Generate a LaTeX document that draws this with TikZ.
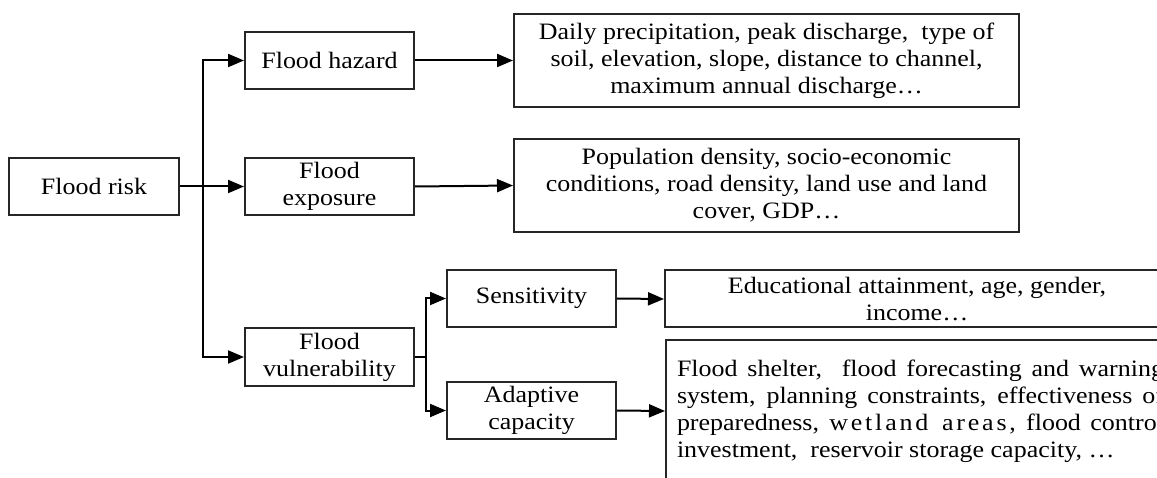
\documentclass[tikz,border=0pt]{standalone}
\usepackage{fontspec}
\setmainfont{Liberation Serif}[FakeStretch=1.105]
\usetikzlibrary{arrows.meta}
\tikzset{
  box/.style={draw=black!85, line width=2pt, inner sep=0pt, align=center,
    font=\fontsize{23.5}{27}\selectfont},
  arr/.style={draw=black, line width=2pt, -{Triangle[length=16pt,width=13pt]}},
  ln/.style={draw=black, line width=2pt}
}
\begin{document}
\begin{tikzpicture}[x=1pt,y=-1pt]
\path[use as bounding box, clip] (0,0) rectangle (1157,478);
\fill[white] (0,0) rectangle (1157,478);
% left level
\node[box, minimum width=170pt, minimum height=57pt] (risk) at (94,186.5) {Flood risk};
\node[box, minimum width=169pt, minimum height=57pt] (haz) at (329.5,60.5) {Flood hazard};
\node[box, minimum width=169pt, minimum height=57pt] (expo) at (329.5,186.5) {Flood\\exposure};
\node[box, minimum width=169pt, minimum height=58pt] (vul) at (329.5,357) {Flood\\vulnerability};
% descriptions
\node[box, minimum width=505pt, minimum height=93pt] (hazd) at (766.5,60.5)
  {Daily precipitation, peak discharge,\ \ type of\\soil, elevation, slope, distance to channel,\\maximum annual discharge…};
\node[box, minimum width=505pt, minimum height=93pt] (expod) at (766.5,185.5)
  {Population density, socio-economic\\conditions, road density, land use and land\\cover, GDP…};
% vulnerability split
\node[box, minimum width=169pt, minimum height=57pt] (sen) at (531.5,298.5) {Sensitivity};
\node[box, minimum width=169pt, minimum height=57pt] (ada) at (531.5,410.5) {Adaptive\\capacity};
\node[box, minimum width=504pt, minimum height=57pt] (send) at (917,299)
  {Educational attainment, age, gender,\\income…};
\node[box, anchor=west, align=justify, text width=487pt, inner xsep=11pt, minimum height=142pt] (adad) at (665,411)
  {\hyphenpenalty=10000 \tolerance=10000 \hbadness=10000
   Flood shelter,\ \ flood forecasting and warning\linebreak
   system, planning constraints, effectiveness of\linebreak
   preparedness, {\addfontfeature{LetterSpace=12}wetland areas,} flood control\linebreak
   investment,\ \ reservoir storage capacity, …};
% connectors
\coordinate (j) at (203,186.5);
\coordinate (k) at (426,357);
\draw[arr] (risk.east) -- (expo.west);
\draw[arr] (j) |- (haz.west);
\draw[arr] (j) |- (vul.west);
\draw[arr] (haz.east) -- (hazd.west);
\draw[arr] (expo.east) -- (expod.west);
\draw[ln] (vul.east) -- (k);
\draw[arr] (k) |- (sen.west);
\draw[arr] (k) |- (ada.west);
\draw[arr] (sen.east) -- (send.west);
\draw[arr] (ada.east) -- (adad.west);
\end{tikzpicture}
\end{document}
